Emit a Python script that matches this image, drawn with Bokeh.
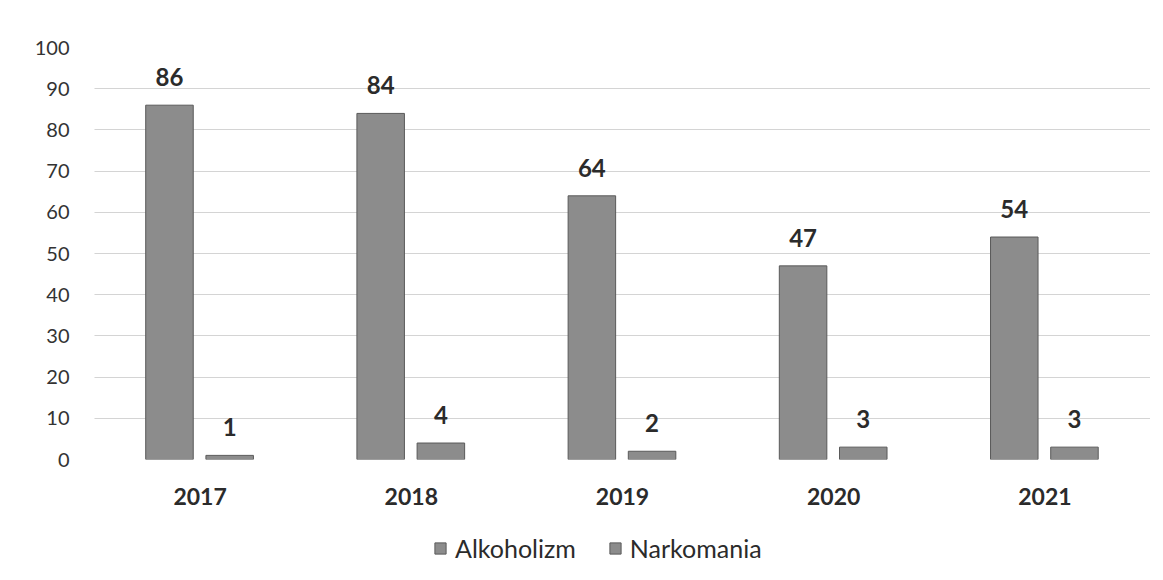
from bokeh.plotting import figure
from bokeh.layouts import column
from bokeh.models import ColumnDataSource, FactorRange, Range1d, Legend, LegendItem, LabelSet
from bokeh.core.properties import value
from bokeh.transform import dodge
from bokeh.embed import file_html
from bokeh.resources import INLINE

years = ["2017", "2018", "2019", "2020", "2021"]
alkoholizm = [86, 84, 64, 47, 54]
narkomania = [1, 4, 2, 3, 3]
series_names = ["Alkoholizm", "Narkomania"]
y_ticks = [0, 10, 20, 30, 40, 50, 60, 70, 80, 90, 100]

src = ColumnDataSource(dict(year=years, alk=alkoholizm, nark=narkomania,
                            alk_lbl=[str(v) for v in alkoholizm],
                            nark_lbl=[str(v) for v in narkomania]))

FONT = "Lato"
bar_fill = "#8c8c8c"
bar_line = "#5a5a5a"

p = figure(width=1155, height=520, output_backend="svg", toolbar_location=None,
           x_range=FactorRange(*years, range_padding=0), y_range=Range1d(0, 100),
           min_border_left=94, min_border_right=5, min_border_top=47, min_border_bottom=61)
p.outline_line_color = None

p.vbar(x=dodge("year", -0.145, range=p.x_range), top="alk", width=0.225, source=src,
       fill_color=bar_fill, line_color=bar_line, line_width=1)
p.vbar(x=dodge("year", 0.14, range=p.x_range), top="nark", width=0.225, source=src,
       fill_color=bar_fill, line_color=bar_line, line_width=1)

for col, lbl, off in (("alk", "alk_lbl", -0.145), ("nark", "nark_lbl", 0.14)):
    ls = LabelSet(x=dodge("year", off, range=p.x_range), y=col, text=lbl, source=src,
                  text_align="center", text_baseline="bottom", y_offset=19,
                  text_font=value(FONT), text_font_style="bold", text_font_size="24px",
                  text_color="#2b2b2b")
    p.add_layout(ls)

p.yaxis.ticker = y_ticks
p.yaxis.axis_line_color = None
p.yaxis.major_tick_line_color = None
p.yaxis.minor_tick_line_color = None
p.yaxis.major_label_standoff = 19
p.yaxis.major_label_text_font = FONT
p.yaxis.major_label_text_font_size = "20px"
p.yaxis.major_label_text_color = "#333333"

p.xaxis.axis_line_color = None
p.xaxis.major_tick_line_color = None
p.xaxis.major_label_standoff = 22
p.xaxis.major_label_text_font = FONT
p.xaxis.major_label_text_font_style = "bold"
p.xaxis.major_label_text_font_size = "23px"
p.xaxis.major_label_text_color = "#2b2b2b"

p.xgrid.grid_line_color = None
p.ygrid.grid_line_color = "#a8a8a8"
p.ygrid.grid_line_dash = "1 1"
p.ygrid.grid_line_width = 1

# legend strip below the chart (no axes, so the frame fills the strip)
lg = figure(width=1155, height=56, output_backend="svg", toolbar_location=None,
            x_range=Range1d(0, 1), y_range=Range1d(0, 1),
            x_axis_location=None, y_axis_location=None,
            min_border_left=0, min_border_right=0, min_border_top=0, min_border_bottom=0)
lg.grid.grid_line_color = None
lg.outline_line_color = None
swatch = ColumnDataSource(dict(x=[-1.0], top=[0.0]))  # off-canvas swatch holders
la = lg.vbar(x="x", top="top", width=0.0, source=swatch, fill_color=bar_fill, line_color=bar_line)
lb = lg.vbar(x="x", top="top", width=0.0, source=swatch, fill_color=bar_fill, line_color=bar_line)

legend = Legend(items=[LegendItem(label=series_names[0], renderers=[la]),
                       LegendItem(label=series_names[1], renderers=[lb])],
                orientation="horizontal", location=(339, 13))
legend.glyph_width = 14
legend.glyph_height = 14
legend.label_standoff = 8
legend.spacing = 32
legend.label_text_font = FONT
legend.label_text_font_size = "25px"
legend.label_text_color = "#2b2b2b"
legend.border_line_color = None
legend.background_fill_alpha = 0
legend.margin = 0
legend.padding = 2
lg.add_layout(legend, "center")

layout = column(p, lg, spacing=0)
open("out.html", "w").write(file_html(layout, INLINE))
